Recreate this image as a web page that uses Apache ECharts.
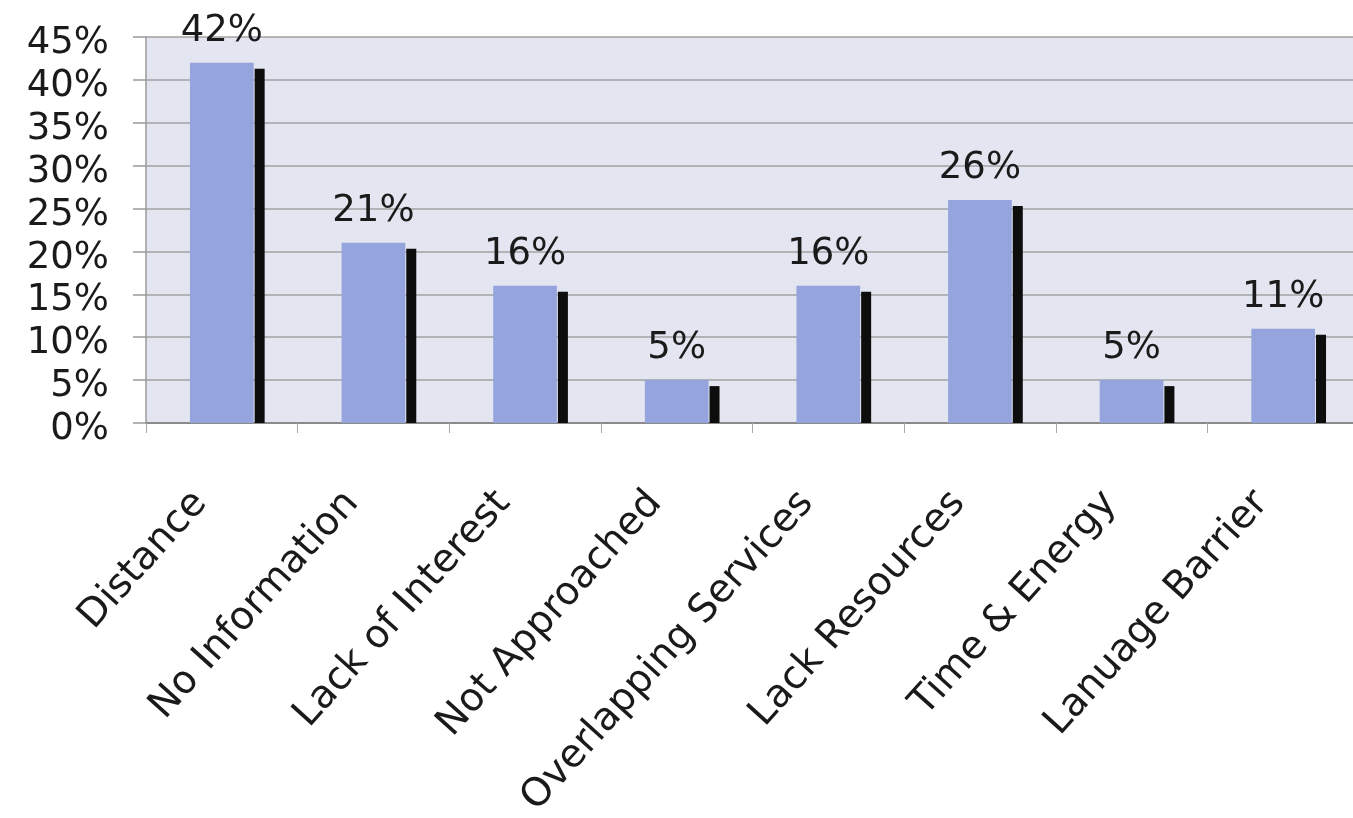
<!DOCTYPE html>
<html>
<head>
<meta charset="utf-8">
<script src="https://cdn.jsdelivr.net/npm/echarts@6/dist/echarts.min.js"></script>
<style>
  html, body { margin: 0; padding: 0; background: #ffffff; }
  #chart { width: 1353px; height: 818px; }
</style>
</head>
<body>
<div id="chart"></div>
<script>
// Reasons given for not using services (share of respondents, %)
const categories = [
  'Distance', 'No Information', 'Lack of Interest', 'Not Approached',
  'Overlapping Services', 'Lack Resources', 'Time & Energy', 'Lanuage Barrier'
];
const shares = [42, 21, 16, 5, 16, 26, 5, 11];
const yTicks = { min: 0, max: 45, step: 5 };

const FONT = '"DejaVu Sans", Verdana, sans-serif';
const BAR_RATIO = 0.42;

const chart = echarts.init(document.getElementById('chart'), null, { renderer: 'canvas' });

chart.setOption({
  backgroundColor: '#ffffff',
  animation: false,
  grid: {
    left: 146, right: -6, top: 37, bottom: 395,
    outerBoundsMode: 'none',
    containLabel: false,
    show: true, backgroundColor: '#e3e5f1', borderWidth: 0
  },
  xAxis: {
    type: 'category',
    data: categories,
    axisLine: { show: true, lineStyle: { color: '#8a8a8a', width: 2 } },
    axisTick: { show: true, length: 10, lineStyle: { color: '#a8a8a8', width: 1 } },
    axisLabel: {
      interval: 0,
      rotate: 48,
      align: 'right',
      verticalAlign: 'middle',
      margin: 50,
      padding: [0, 32, 0, 0],
      fontFamily: FONT,
      fontSize: 39,
      color: '#1a1a1a'
    }
  },
  yAxis: {
    type: 'value',
    min: yTicks.min, max: yTicks.max, interval: yTicks.step,
    axisLine: { show: true, lineStyle: { color: '#9a9a9a', width: 1.5 } },
    axisTick: { show: true, length: 13, lineStyle: { color: '#9a9a9a', width: 1.5 } },
    splitLine: { show: true, lineStyle: { color: '#a2a2a2', width: 1.5 } },
    axisLabel: {
      formatter: '{value}%',
      showMinLabel: true,
      showMaxLabel: true,
      hideOverlap: false,
      margin: 37,
      fontFamily: FONT,
      fontSize: 37,
      lineHeight: 13,
      verticalAlign: 'top',
      color: '#1a1a1a'
    }
  },
  series: [
    {
      // dark drop shadow behind each bar
      type: 'custom',
      z: 1,
      silent: true,
      data: shares.map((v, i) => [i, v]),
      renderItem: function (params, api) {
        const idx = api.value(0);
        const val = api.value(1);
        const top = api.coord([idx, val]);
        const base = api.coord([idx, 0]);
        const bandW = api.size([1, 0])[0];
        const half = bandW * BAR_RATIO / 2;
        return {
          type: 'rect',
          shape: { x: top[0] + half + 1, y: top[1] + 6, width: 10, height: base[1] - top[1] - 6 },
          style: { fill: '#0d0d0d' }
        };
      }
    },
    {
      type: 'bar',
      z: 2,
      data: shares,
      barWidth: (BAR_RATIO * 100) + '%',
      itemStyle: { color: '#95a4dc' },
      label: {
        show: true,
        position: 'top',
        distance: 13,
        formatter: '{c}%',
        fontFamily: FONT,
        fontSize: 37,
        color: '#1a1a1a'
      }
    }
  ]
});
</script>
</body>
</html>
